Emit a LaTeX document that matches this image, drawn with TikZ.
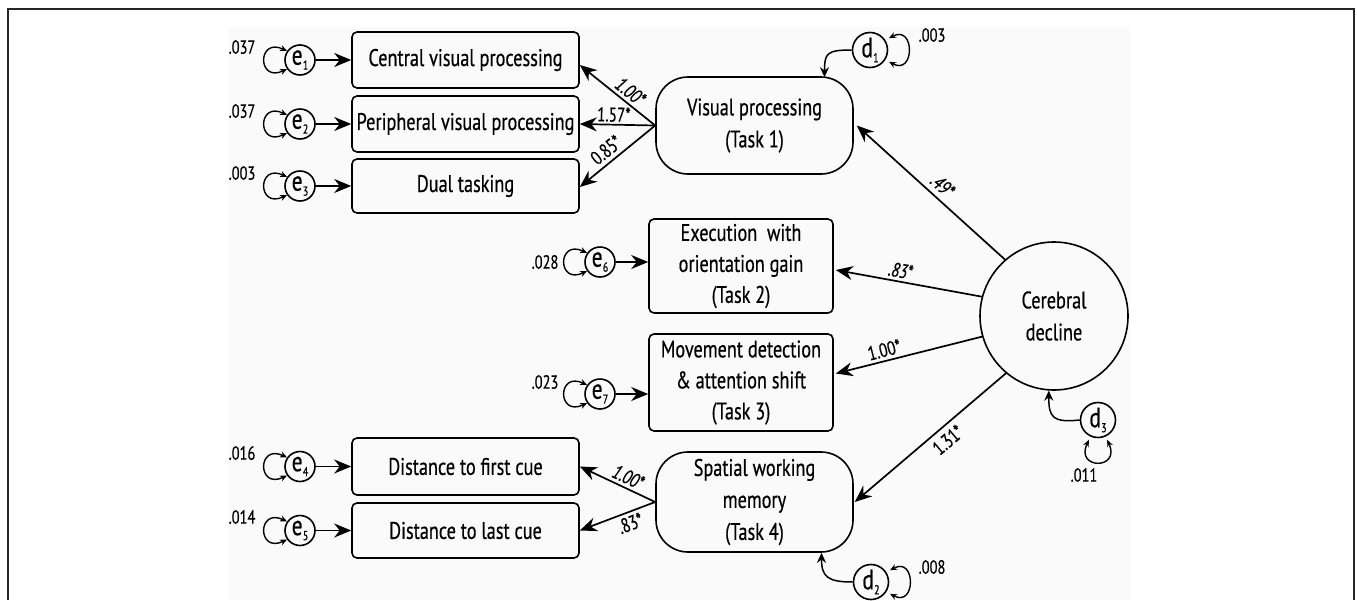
\documentclass[tikz,border=0pt]{standalone}
\usepackage{fontspec}
\setmainfont{PT Sans}[FakeStretch=0.76,FakeBold=0.5]
\usetikzlibrary{arrows.meta}
\newcommand\lvlab[2]{#1\kern0.3pt\raisebox{-5pt}{\fontsize{13}{13}\selectfont #2}}
\begin{document}
\begin{tikzpicture}[x=1pt,y=-1pt,
  box/.style={draw, line width=1.6pt, rounded corners=5pt, minimum width=227pt, inner sep=0pt, align=center, font=\fontsize{24}{31}\selectfont},
  taskbox/.style={draw, line width=1.6pt, rounded corners=5pt, minimum width=184pt, inner sep=0pt, align=center, font=\fontsize{24}{31}\selectfont},
  factor/.style={draw, line width=1.6pt, rounded corners=32pt, minimum width=197pt, inner sep=0pt, align=center, font=\fontsize{24}{32}\selectfont},
  bigcirc/.style={draw, circle, line width=1.6pt, minimum size=148pt, inner sep=0pt, align=center, font=\fontsize{24}{32}\selectfont},
  errc/.style={draw, circle, line width=1.6pt, minimum size=30pt, inner sep=0pt, font=\fontsize{28}{28}\selectfont},
  disc/.style={draw, circle, line width=1.6pt, minimum size=35pt, inner sep=0pt, font=\fontsize{28}{28}\selectfont},
  varlab/.style={inner sep=0pt, font=\fontsize{19}{19}\selectfont},
  coef/.style={inner sep=1pt, font=\fontsize{20}{20}\selectfont, sloped},
  bigarr/.style={line width=1.7pt, -{Stealth[length=17pt,width=14pt]}},
  darr/.style={line width=1.5pt, -{Stealth[length=10pt,width=9pt]}},
  selfloop/.style={line width=1.4pt, {Stealth[length=7pt,width=6pt]}-{Stealth[length=7pt,width=6pt]}}
]
\useasboundingbox (0,0) rectangle (1357,600);
\fill[black!2] (228,27) rectangle (1130,600);
\draw[line width=1.5pt, black!85] (8,600) -- (8,9) -- (1354,9) -- (1354,600);

% observed boxes, left column
\node[box, minimum height=56pt] (b1) at (465.5,60) {Central visual processing};
\node[box, minimum height=56pt] (b2) at (465.5,124) {Peripheral visual processing};
\node[box, minimum height=54pt] (b3) at (465.5,186) {Dual tasking};
\node[box, minimum height=57pt] (b4) at (465.5,466.5) {Distance to first cue};
\node[box, minimum height=55pt] (b5) at (465.5,530.5) {Distance to last cue};

% task boxes
\node[taskbox, minimum height=94pt] (t2) at (741,266) {Execution~~with\\orientation gain\\(Task 2)};
\node[taskbox, minimum height=97pt] (t3) at (741,382.5) {Movement detection\\\& attention shift\\(Task 3)};

% factors
\node[factor, minimum height=97pt] (vp) at (754.5,125.5) {Visual processing\\(Task 1)};
\node[factor, minimum height=100pt] (swm) at (754.5,502) {Spatial working\\memory\\(Task 4)};
\node[bigcirc] (cd) at (1054,316) {Cerebral\\decline};

% error terms
\node[errc] (e1) at (300,60) {\lvlab{e}{1}};
\node[errc] (e2) at (300,124) {\lvlab{e}{2}};
\node[errc] (e3) at (300,186) {\lvlab{e}{3}};
\node[errc] (e4) at (300,466.5) {\lvlab{e}{4}};
\node[errc] (e5) at (300,530.5) {\lvlab{e}{5}};
\node[errc] (e6) at (600,262) {\lvlab{e}{6}};
\node[errc] (e7) at (600,394) {\lvlab{e}{7}};
\node[disc] (d1) at (870,50) {\lvlab{d}{1}};
\node[disc] (d2) at (871,582) {\lvlab{d}{2}};
\node[disc] (d3) at (1098,420) {\lvlab{d}{3}};

% variance labels
\node[varlab] (v1) at (242,47) {.037};
\node[varlab] (v2) at (242,111) {.037};
\node[varlab] (v3) at (242,173) {.003};
\node[varlab] (v4) at (242,453) {.016};
\node[varlab] (v5) at (242,517) {.014};
\node[varlab] (v6) at (545,262) {.028};
\node[varlab] (v7) at (545,382) {.023};
\node[varlab] (vd1) at (932,35) {.003};
\node[varlab] (vd2) at (932,567) {.008};
\node[varlab] (vd3) at (1084,475) {.011};

% self loops
\foreach \n in {e1,e2,e3,e4,e5,e6,e7}{
  \draw[selfloop] (\n.145) .. controls +(-30,-14) and +(-30,14) .. (\n.215);
}
\draw[selfloop] ([xshift=5pt]d1.40) .. controls +(26,-14) and +(26,14) .. ([xshift=5pt]d1.-40);
\draw[selfloop] ([xshift=5pt]d2.40) .. controls +(26,-14) and +(26,14) .. ([xshift=5pt]d2.-40);
\draw[selfloop] ([yshift=-4pt]d3.240) .. controls +(-14,30) and +(14,30) .. ([yshift=-4pt]d3.300);

% error arrows
\foreach \e/\b in {e1/b1,e2/b2,e3/b3,e4/b4,e5/b5,e6/t2,e7/t3}{
  \draw[bigarr] (\e) -- (\e -| \b.west);
}

% disturbances
\draw[darr] (d1.west) .. controls +(-25,0) and +(0,-24) .. ([xshift=70pt,yshift=-1pt]vp.north);
\draw[darr] (d2.west) .. controls +(-25,0) and +(0,24) .. ([xshift=67pt]swm.south);
\draw[darr] (d3.west) .. controls +(-28,3) and +(0,26) .. (cd.266);

% loadings
\draw[bigarr] (vp.west) -- node[coef, pos=0.42, above=2pt, font=\fontsize{20}{20}\selectfont\itshape] {1.00*} ([yshift=-5pt]b1.east);
\draw[bigarr] (vp.west) -- node[coef, pos=0.55, above=1pt] {1.57*} (b2.east);
\draw[bigarr] (vp.west) -- node[coef, pos=0.55, above=3pt] {0.85*} ([yshift=-1pt]b3.east);
\draw[bigarr] (swm.west) -- node[coef, pos=0.42, above=2pt, font=\fontsize{20}{20}\selectfont\itshape] {1.00*} (b4.east);
\draw[bigarr] (swm.west) -- node[coef, pos=0.38, below=2pt] {.83*} (b5.east);

\draw[bigarr] (cd.131) -- node[coef, pos=0.48, above=4pt, font=\fontsize{20}{20}\selectfont\itshape] {.49*} ([xshift=3pt]vp.east);
\draw[bigarr] (cd.165) -- node[coef, pos=0.57, above=2pt, font=\fontsize{20}{20}\selectfont\itshape] {.83*} ([xshift=2pt,yshift=-4pt]t2.east);
\draw[bigarr] (cd.196) -- node[coef, pos=0.65, above=2pt] {1.00*} ([xshift=2pt,yshift=9pt]t3.east);
\draw[bigarr] (cd.230) -- node[coef, pos=0.44, below=4pt] {1.31*} ([xshift=1pt]swm.east);
\end{tikzpicture}
\end{document}
